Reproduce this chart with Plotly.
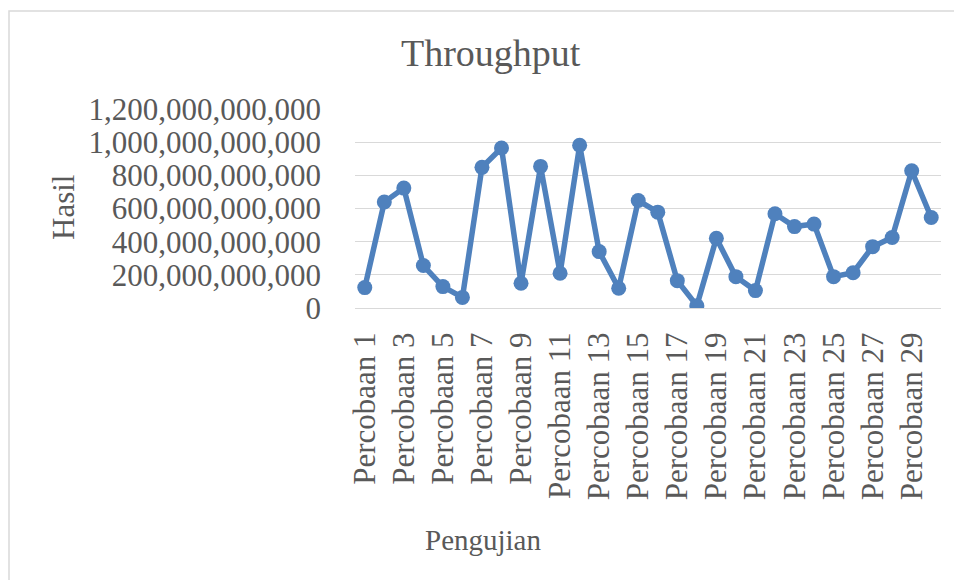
import plotly.graph_objects as go

categories = [f"Percobaan {i}" for i in range(1, 31)]
throughput = [
    123e9, 639e9, 723e9, 256e9, 129e9, 64e9, 848e9, 965e9, 149e9, 854e9,
    210e9, 981e9, 340e9, 119e9, 648e9, 578e9, 165e9, 14e9, 421e9, 189e9,
    105e9, 568e9, 491e9, 506e9, 189e9, 213e9, 370e9, 425e9, 828e9, 546e9,
]
y_ticks = [0, 200e9, 400e9, 600e9, 800e9, 1000e9, 1200e9]
x_tick_labels = categories[::2]

# page body has an 8px default margin; compensate so the figure fills the view
OFF = 8
SW, SH = 962, 580
W, H = SW - OFF, SH - OFF
# plot area in screen pixels: x 355..941, y 109..308
L, R, T, B = 355 - OFF, SW - 941, 109 - OFF, SH - 308


PW, PH = W - L - R, H - T - B


def px(xs):
    return (xs - OFF - L) / PW


def py(ys):
    return (H - B - (ys - OFF)) / PH


FONT = "Liberation Serif, Times New Roman, serif"
GRAY = "#595959"
GRID = "#D9D9D9"
BLUE = "#4F81BD"

fig = go.Figure(
    go.Scatter(
        x=categories,
        y=throughput,
        mode="lines+markers",
        line=dict(color=BLUE, width=5.5),
        marker=dict(color=BLUE, size=15),
        showlegend=False,
    )
)

fig.update_layout(
    width=W,
    height=H,
    margin=dict(l=L, r=R, t=T, b=B, pad=0),
    paper_bgcolor="white",
    plot_bgcolor="white",
    font=dict(family=FONT, color=GRAY, size=31),
    xaxis=dict(
        type="category",
        range=[-0.5, 29.5],
        tickmode="array",
        tickvals=x_tick_labels,
        ticktext=x_tick_labels,
        tickangle=-90,
        showgrid=False,
        showline=True,
        linecolor=GRID,
        linewidth=1,
        ticks="",
        ticklabelstandoff=11,
        tickfont=dict(family=FONT, color=GRAY, size=31),
    ),
    yaxis=dict(
        range=[0, 1.2e12],
        tickmode="array",
        tickvals=y_ticks,
        tickformat=",.0f",
        showgrid=True,
        gridcolor=GRID,
        gridwidth=1,
        zeroline=False,
        showline=False,
        ticks="",
        ticklabelstandoff=33,
        tickfont=dict(family=FONT, color=GRAY, size=31),
    ),
    shapes=[
        dict(
            type="rect",
            xref="paper",
            yref="paper",
            x0=px(9),
            x1=px(980),
            y0=py(600),
            y1=py(11),
            line=dict(color=GRID, width=1.5),
            fillcolor="rgba(0,0,0,0)",
            layer="below",
        )
    ],
    annotations=[
        dict(
            text="Throughput",
            xref="paper",
            yref="paper",
            x=px(491),
            y=py(53),
            xanchor="center",
            yanchor="middle",
            showarrow=False,
            font=dict(family=FONT, color=GRAY, size=38),
        ),
        dict(
            text="Pengujian",
            xref="paper",
            yref="paper",
            x=px(483),
            y=py(540),
            xanchor="center",
            yanchor="middle",
            showarrow=False,
            font=dict(family=FONT, color=GRAY, size=29),
        ),
        dict(
            text="Hasil",
            xref="paper",
            yref="paper",
            x=px(63),
            y=py(208),
            xanchor="center",
            yanchor="middle",
            textangle=-90,
            showarrow=False,
            font=dict(family=FONT, color=GRAY, size=31),
        ),
    ],
)

fig.write_html("out.html")
